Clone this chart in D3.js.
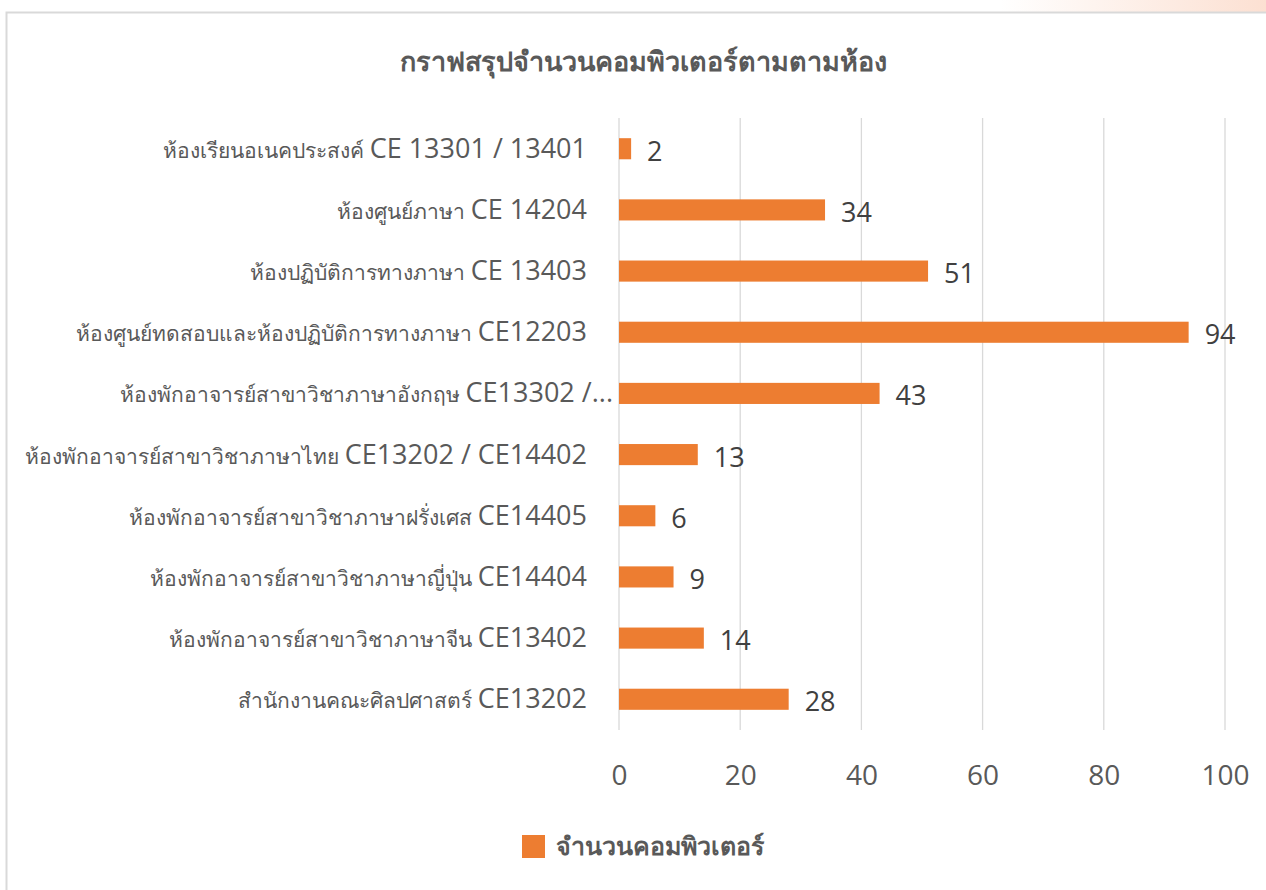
<!DOCTYPE html>
<html>
<head>
<meta charset="utf-8">
<script src="https://cdn.jsdelivr.net/npm/d3@7"></script>
<style>
  body { margin: 0; background: #fff; }
  svg { display: block; }
</style>
</head>
<body>
<div id="chart"></div>
<script>
// room names (thai part) and room codes, top to bottom
var roomNames = [
    "ห้องเรียนอเนคประสงค์ ",
    "ห้องศูนย์ภาษา ",
    "ห้องปฏิบัติการทางภาษา  ",
    "ห้องศูนย์ทดสอบและห้องปฏิบัติการทางภาษา ",
    "ห้องพักอาจารย์สาขาวิชาภาษาอังกฤษ ",
    "ห้องพักอาจารย์สาขาวิชาภาษาไทย ",
    "ห้องพักอาจารย์สาขาวิชาภาษาฝรั่งเศส ",
    "ห้องพักอาจารย์สาขาวิชาภาษาญี่ปุ่น ",
    "ห้องพักอาจารย์สาขาวิชาภาษาจีน ",
    "สำนักงานคณะศิลปศาสตร์ "
];
var roomCodes = [
    "CE 13301 / 13401",
    "CE 14204",
    "CE 13403",
    "CE12203",
    "CE13302 /...",
    "CE13202 / CE14402",
    "CE14405",
    "CE14404",
    "CE13402",
    "CE13202"
];
var computerCounts = [2, 34, 51, 94, 43, 13, 6, 9, 14, 28];
var xTicks = [0, 20, 40, 60, 80, 100];

var chartTitle = "กราฟสรุปจำนวนคอมพิวเตอร์ตามตามห้อง";
var seriesName = "จำนวนคอมพิวเตอร์";

var W = 1266, H = 890;
var margin = { top: 118, right: 41, bottom: 160, left: 619 };
var width = W - margin.left - margin.right;
var height = H - margin.top - margin.bottom;

var svg = d3.select("#chart").append("svg")
    .attr("width", W)
    .attr("height", H);

// pinkish strip at the top right
var grad = svg.append("defs").append("linearGradient")
    .attr("id", "topGrad")
    .attr("x1", "0%").attr("x2", "100%");
grad.append("stop").attr("offset", "0%").attr("stop-color", "#fff");
grad.append("stop").attr("offset", "100%").attr("stop-color", "#fce0d2");
svg.append("rect")
    .attr("x", 1000).attr("y", 0)
    .attr("width", 266).attr("height", 12)
    .attr("fill", "url(#topGrad)");

// chart frame
svg.append("rect")
    .attr("x", 6.5).attr("y", 12.5)
    .attr("width", W + 20).attr("height", H + 20)
    .attr("fill", "#fff")
    .attr("stroke", "#d9d9d9")
    .attr("stroke-width", 2);

// title
svg.append("text")
    .attr("x", 643)
    .attr("y", 71)
    .style("text-anchor", "middle")
    .style("font-family", "'Noto Sans', sans-serif")
    .style("font-weight", 700)
    .style("font-size", "27px")
    .style("fill", "#595959")
    .text(chartTitle);

var g = svg.append("g")
    .attr("transform", "translate(" + margin.left + "," + margin.top + ")");

var x = d3.scaleLinear()
    .domain([0, 100])
    .range([0, width]);

var y = d3.scaleBand()
    .domain(d3.range(computerCounts.length))
    .range([0, height])
    .paddingInner(0.655)
    .paddingOuter(0.33);

// gridlines
g.selectAll(".grid")
    .data(xTicks)
    .enter()
    .append("line")
    .attr("class", "grid")
    .attr("x1", function(d) { return x(d); })
    .attr("x2", function(d) { return x(d); })
    .attr("y1", 0)
    .attr("y2", height)
    .attr("stroke", "#d9d9d9")
    .attr("stroke-width", 1.3);

// x axis labels
var xAxis = d3.axisBottom(x)
    .tickValues(xTicks)
    .tickSize(0)
    .tickPadding(35);
var xg = g.append("g")
    .attr("transform", "translate(0," + height + ")")
    .call(xAxis);
xg.select(".domain").remove();
xg.selectAll("text")
    .style("font-family", "'Open Sans', 'Noto Sans', sans-serif")
    .style("font-size", "28px")
    .style("fill", "#595959");

// bars
g.selectAll(".bar")
    .data(computerCounts)
    .enter()
    .append("rect")
    .attr("class", "bar")
    .attr("x", x(0))
    .attr("y", function(d, i) { return y(i); })
    .attr("width", function(d) { return x(d) - x(0); })
    .attr("height", y.bandwidth())
    .attr("fill", "#ed7d31");

// value labels
g.selectAll(".value")
    .data(computerCounts)
    .enter()
    .append("text")
    .attr("class", "value")
    .attr("x", function(d) { return x(d) + 16; })
    .attr("y", function(d, i) { return y(i) + y.bandwidth() / 2 + 12; })
    .style("font-family", "'Open Sans', 'Noto Sans', sans-serif")
    .style("font-size", "27px")
    .style("fill", "#404040")
    .text(function(d) { return d; });

// category labels
var cat = g.selectAll(".cat")
    .data(computerCounts)
    .enter()
    .append("text")
    .attr("class", "cat")
    .attr("x", function(d, i) { return i == 4 ? -6 : -32; })
    .attr("y", function(d, i) { return y(i) + y.bandwidth() / 2 + 9; })
    .style("text-anchor", "end")
    .style("fill", "#595959");
cat.append("tspan")
    .style("font-family", "'Noto Sans', sans-serif")
    .style("font-weight", 300)
    .style("font-size", "21px")
    .text(function(d, i) { return roomNames[i]; });
cat.append("tspan")
    .style("font-family", "'Open Sans', 'Noto Sans', sans-serif")
    .style("font-size", "27px")
    .text(function(d, i) { return roomCodes[i]; });

// legend
svg.append("rect")
    .attr("x", 522)
    .attr("y", 835)
    .attr("width", 23)
    .attr("height", 23)
    .attr("fill", "#ed7d31");
svg.append("text")
    .attr("x", 556)
    .attr("y", 855)
    .style("font-family", "'Noto Sans', sans-serif")
    .style("font-weight", 700)
    .style("font-size", "25px")
    .style("fill", "#595959")
    .text(seriesName);
</script>
</body>
</html>
